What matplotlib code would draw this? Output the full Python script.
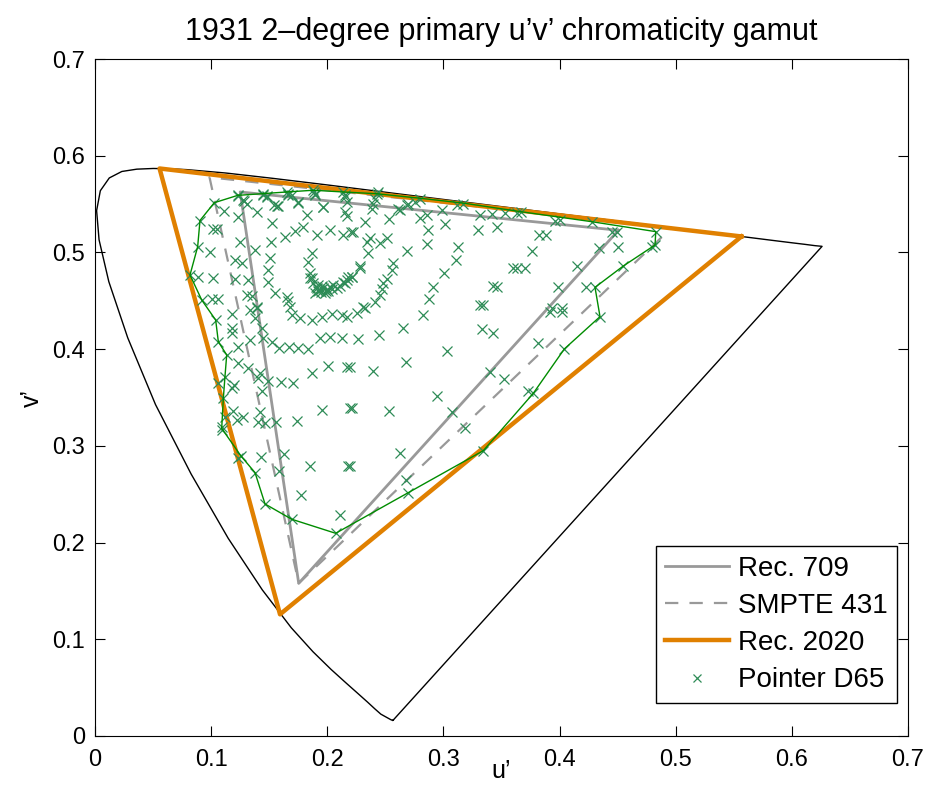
import numpy as np
import matplotlib
matplotlib.use("Agg")
import matplotlib.pyplot as plt

plt.rcParams['font.family'] = ['Liberation Sans', 'DejaVu Sans']

# CIE 1931 2-degree spectral locus in u'v' (380..700 nm), closed by the purple line
locus_u = [0.2568, 0.2564, 0.2545, 0.2461, 0.2411, 0.2347, 0.2266, 0.2161, 0.2033,
           0.1877, 0.1690, 0.1441, 0.1147,
           0.0828, 0.0521, 0.0282, 0.0119, 0.0035, 0.0014, 0.0046, 0.0123, 0.0231,
           0.0360, 0.0501, 0.0643, 0.0792, 0.1127, 0.1531, 0.2026, 0.2623, 0.3315,
           0.4035, 0.4692, 0.5203, 0.5565, 0.5830, 0.6005, 0.6109, 0.6199, 0.6260,
           0.2568]
locus_v = [0.0165, 0.0160, 0.0170, 0.0226, 0.0279, 0.0350, 0.0437, 0.0549, 0.0688,
           0.0871, 0.1119, 0.1510, 0.2044,
           0.2708, 0.3427, 0.4117, 0.4698, 0.5131, 0.5432, 0.5638, 0.5770, 0.5837,
           0.5861, 0.5868, 0.5865, 0.5856, 0.5821, 0.5766, 0.5694, 0.5604, 0.5501,
           0.5393, 0.5296, 0.5219, 0.5165, 0.5125, 0.5099, 0.5084, 0.5070, 0.5063,
           0.0165]

# primaries (R, G, B, R)
rec709_u = [0.4507, 0.1250, 0.1754, 0.4507]
rec709_v = [0.5229, 0.5625, 0.1579, 0.5229]
p3_u = [0.4964, 0.0986, 0.1754, 0.4964]
p3_v = [0.5255, 0.5777, 0.1579, 0.5255]
rec2020_u = [0.5566, 0.0556, 0.1593, 0.5566]
rec2020_v = [0.5165, 0.5868, 0.1258, 0.5165]

# Pointer gamut samples
pointer_u = [
    0.0904, 0.1027, 0.1113, 0.1229, 0.1285, 0.1229, 0.1016, 0.1048, 0.1392, 0.1449,
    0.1478, 0.1544, 0.1578, 0.1664, 0.1694, 0.1745, 0.1888, 0.1894, 0.1966, 0.2153,
    0.2167, 0.2167, 0.1823, 0.1521, 0.1794, 0.1722, 0.1909, 0.2023, 0.2138, 0.2204,
    0.1636, 0.1515, 0.0884, 0.0990, 0.1248, 0.1378, 0.1507, 0.1205, 0.1263, 0.1866,
    0.1837, 0.1492, 0.1492, 0.0818, 0.0884, 0.1019, 0.1205, 0.1320, 0.1851, 0.1851,
    0.2181, 0.2153, 0.1306, 0.1349, 0.1392, 0.1550, 0.1651, 0.1664, 0.0919, 0.1005,
    0.1062,
    # dense ring near the white point
    0.1866, 0.1880, 0.1909, 0.1937, 0.1966, 0.1995, 0.2023, 0.2052, 0.2081, 0.2110,
    0.2138, 0.2167, 0.2210, 0.2282, 0.1894, 0.1980, 0.1920, 0.1946, 0.2006, 0.1955,
    0.1920, 0.1900, 0.1985, 0.2040,
    # top band
    0.1234, 0.1277, 0.1306, 0.1449, 0.1478, 0.1565, 0.1650, 0.1664, 0.1750, 0.1880,
    0.1894, 0.1966, 0.2138, 0.2153, 0.2153, 0.2425, 0.2411, 0.2396, 0.2382, 0.2440,
    0.2684, 0.2611, 0.2798,
    # upper middle
    0.2626, 0.2698, 0.2755, 0.2534, 0.2325, 0.2798, 0.2856, 0.2985, 0.3114, 0.3171,
    0.2870, 0.3014, 0.3315, 0.3416, 0.3530, 0.3631, 0.3300, 0.3459, 0.2224, 0.2368,
    0.2339, 0.2454, 0.2511, 0.2856, 0.2684, 0.2353, 0.3128, 0.3108, 0.2568, 0.2555,
    0.2282, 0.2210, 0.3008, 0.3602, 0.2511, 0.2482, 0.2469, 0.2454, 0.2913, 0.3429,
    0.3459, 0.2411, 0.2310, 0.2876, 0.3315, 0.3343,
    # right
    0.3668, 0.3961, 0.4004, 0.4276, 0.4449, 0.4492, 0.4828, 0.4822, 0.4793, 0.3823,
    0.3880, 0.3765, 0.4339, 0.4506, 0.3631, 0.3702, 0.4153, 0.4549, 0.3984, 0.4225,
    0.4305, 0.3932, 0.4018, 0.4348, 0.3918, 0.4018, 0.3812, 0.4041, 0.3731, 0.3774,
    # middle
    0.2253, 0.2325, 0.2822, 0.2649, 0.2448, 0.2267, 0.3329, 0.3429, 0.3033, 0.2678,
    0.2396, 0.2196, 0.3401, 0.3522, 0.2947, 0.2210, 0.2531, 0.3071, 0.3186,
    # left middle
    0.1039, 0.1177, 0.1335, 0.1378, 0.1392, 0.1435, 0.1679, 0.1694, 0.1765, 0.1866,
    0.1952, 0.2038, 0.2124, 0.2167, 0.1177, 0.1177, 0.1062, 0.1335, 0.1234, 0.1134,
    0.1449, 0.1527, 0.1584, 0.1670, 0.1750, 0.1831, 0.1937, 0.2023, 0.2124, 0.1229,
    0.1320, 0.1421, 0.1406, 0.1435, 0.1119, 0.1062, 0.1199, 0.1177, 0.1487, 0.1601,
    0.1707, 0.1866, 0.2009, 0.2167, 0.1105, 0.1191, 0.1119, 0.1277, 0.1220, 0.1421,
    0.1401, 0.1464, 0.1556, 0.1737, 0.1957, 0.2196, 0.1091, 0.1091,
    # lower
    0.1257, 0.1234, 0.1429, 0.1630, 0.1584, 0.1378, 0.1851, 0.2176, 0.1774, 0.1464,
    0.1694, 0.2110, 0.2072, 0.2626, 0.2196, 0.2678, 0.2698, 0.3343,
]
pointer_v = [
    0.5330, 0.5514, 0.5431, 0.5584, 0.5529, 0.5363, 0.5242, 0.5239, 0.5421, 0.5604,
    0.5584, 0.5491, 0.5480, 0.5604, 0.5594, 0.5514, 0.5628, 0.5604, 0.5473, 0.5594,
    0.5525, 0.5377, 0.5387, 0.5308, 0.5266, 0.5225, 0.5180, 0.5232, 0.5180, 0.5215,
    0.5157, 0.5111, 0.5059, 0.5008, 0.5111, 0.5025, 0.4939, 0.4922, 0.4894, 0.4997,
    0.4904, 0.4818, 0.4697, 0.4767, 0.4749, 0.4739, 0.4722, 0.4715, 0.4784, 0.4733,
    0.4749, 0.4681, 0.4560, 0.4549, 0.4439, 0.4577, 0.4542, 0.4501, 0.4508, 0.4515,
    0.4515,
    0.4733, 0.4681, 0.4629, 0.4612, 0.4629, 0.4622, 0.4646, 0.4663, 0.4629, 0.4656,
    0.4698, 0.4715, 0.4749, 0.4836, 0.4577, 0.4577, 0.4600, 0.4590, 0.4600, 0.4650,
    0.4660, 0.4640, 0.4600, 0.4620,
    0.5590, 0.5541, 0.5505, 0.5590, 0.5573, 0.5480, 0.5625, 0.5597, 0.5522, 0.5643,
    0.5597, 0.5470, 0.5625, 0.5573, 0.5418, 0.5607, 0.5556, 0.5504, 0.5452, 0.5620,
    0.5487, 0.5452, 0.5556,
    0.5439, 0.5501, 0.5525, 0.5343, 0.5318, 0.5353, 0.5387, 0.5439, 0.5491, 0.5501,
    0.5232, 0.5291, 0.5387, 0.5397, 0.5411, 0.5411, 0.5232, 0.5266, 0.5215, 0.5146,
    0.5111, 0.5094, 0.5146, 0.5087, 0.5018, 0.4997, 0.5059, 0.4922, 0.4888, 0.4818,
    0.4860, 0.4749, 0.4784, 0.4836, 0.4722, 0.4681, 0.4619, 0.4560, 0.4646, 0.4653,
    0.4646, 0.4491, 0.4439, 0.4515, 0.4457, 0.4457,
    0.5421, 0.5328, 0.5335, 0.5318, 0.5215, 0.5215, 0.5215, 0.5077, 0.5059, 0.5180,
    0.5180, 0.5015, 0.5049, 0.5059, 0.4836, 0.4836, 0.4860, 0.4860, 0.4646, 0.4639,
    0.4639, 0.4421, 0.4421, 0.4336, 0.4387, 0.4381, 0.4060, 0.4002, 0.3567, 0.3544,
    0.4371, 0.4422, 0.4353, 0.4222, 0.4146, 0.4105, 0.4208, 0.4164, 0.3981, 0.3864,
    0.3777, 0.3819, 0.3761, 0.3691, 0.3519, 0.3395, 0.3361, 0.3353, 0.3188,
    0.4301, 0.4360, 0.4405, 0.4319, 0.4422, 0.4222, 0.4439, 0.4353, 0.4319, 0.4301,
    0.4336, 0.4360, 0.4353, 0.4336, 0.4216, 0.4164, 0.4077, 0.4095, 0.4025, 0.3940,
    0.4112, 0.4071, 0.4015, 0.4025, 0.4015, 0.3998, 0.4112, 0.4129, 0.4112, 0.3853,
    0.3802, 0.3750, 0.3698, 0.3567, 0.3715, 0.3646, 0.3629, 0.3595, 0.3671, 0.3663,
    0.3646, 0.3750, 0.3826, 0.3819, 0.3491, 0.3361, 0.3302, 0.3302, 0.3267, 0.3353,
    0.3244, 0.3232, 0.3244, 0.3257, 0.3371, 0.3395, 0.3198, 0.3164,
    0.2895, 0.2871, 0.2882, 0.2916, 0.2743, 0.2723, 0.2792, 0.2792, 0.2492, 0.2399,
    0.2241, 0.2285, 0.2096, 0.2923, 0.2792, 0.2647, 0.2509, 0.2950,
]

# Pointer gamut outline
hull_u = [0.1229, 0.1650, 0.1880, 0.2138, 0.2425, 0.2800, 0.3171, 0.3668, 0.4276,
          0.4828, 0.4822, 0.4549, 0.4305, 0.4348, 0.4041, 0.3774, 0.3343, 0.2072,
          0.1694, 0.1464, 0.1378, 0.1257, 0.1091, 0.1105, 0.1119, 0.1134, 0.1062,
          0.1039, 0.0919, 0.0818, 0.0884, 0.0904, 0.1027, 0.1229]
hull_v = [0.5590, 0.5625, 0.5643, 0.5625, 0.5607, 0.5560, 0.5510, 0.5421, 0.5318,
          0.5215, 0.5077, 0.4860, 0.4639, 0.4336, 0.4002, 0.3544, 0.2950, 0.2096,
          0.2241, 0.2399, 0.2723, 0.2895, 0.3181, 0.3491, 0.3715, 0.3940, 0.4077,
          0.4301, 0.4508, 0.4767, 0.5059, 0.5330, 0.5514, 0.5590]

gray = (0.6, 0.6, 0.6)
orange = (0.88, 0.5, 0.0)
green = (0.18, 0.55, 0.34)

fig = plt.figure(figsize=(9.34, 8), dpi=100)
ax = fig.add_axes([0.1017, 0.08, 0.8705, 0.84625])

ax.plot(locus_u, locus_v, color='black', lw=1.0, solid_joinstyle='round')
ax.plot(rec709_u, rec709_v, color=gray, lw=2.0, label='Rec. 709')
ax.plot(p3_u, p3_v, color=gray, lw=1.6, ls=(0, (6, 5)), label='SMPTE 431')
ax.plot(rec2020_u, rec2020_v, color=orange, lw=3.2, label='Rec. 2020')
ax.plot(pointer_u, pointer_v, ls='none', marker='x', ms=6.5, mew=0.9,
        color=green, label='Pointer D65')
ax.plot(hull_u, hull_v, color=(0.0, 0.55, 0.0), lw=1.0)

ax.set_xlim(0, 0.7)
ax.set_ylim(0, 0.7)
ax.set_xticks(np.arange(0, 0.71, 0.1))
ax.set_yticks(np.arange(0, 0.71, 0.1))
ax.set_xticklabels(['0', '0.1', '0.2', '0.3', '0.4', '0.5', '0.6', '0.7'])
ax.set_yticklabels(['0', '0.1', '0.2', '0.3', '0.4', '0.5', '0.6', '0.7'])
ax.tick_params(direction='in', top=True, right=True, labelsize=17, length=7)
ax.tick_params(axis='x', pad=9)
ax.tick_params(axis='y', pad=7)
ax.set_xlabel('u\u2019', fontsize=18, labelpad=-8)
ax.set_ylabel('v\u2019', fontsize=18, labelpad=6)
ax.set_title('1931 2\u2013degree primary u\u2019v\u2019 chromaticity gamut', fontsize=22, pad=14)

leg = ax.legend(loc='lower right', bbox_to_anchor=(0.9865, 0.0487), borderaxespad=0,
                fontsize=20, handlelength=2.3, fancybox=False,
                framealpha=1, edgecolor='black', borderpad=0.35, labelspacing=0.4,
                handletextpad=0.3, markerscale=0.8)
leg.get_frame().set_linewidth(1.0)

fig.savefig('out.png', dpi=100)
